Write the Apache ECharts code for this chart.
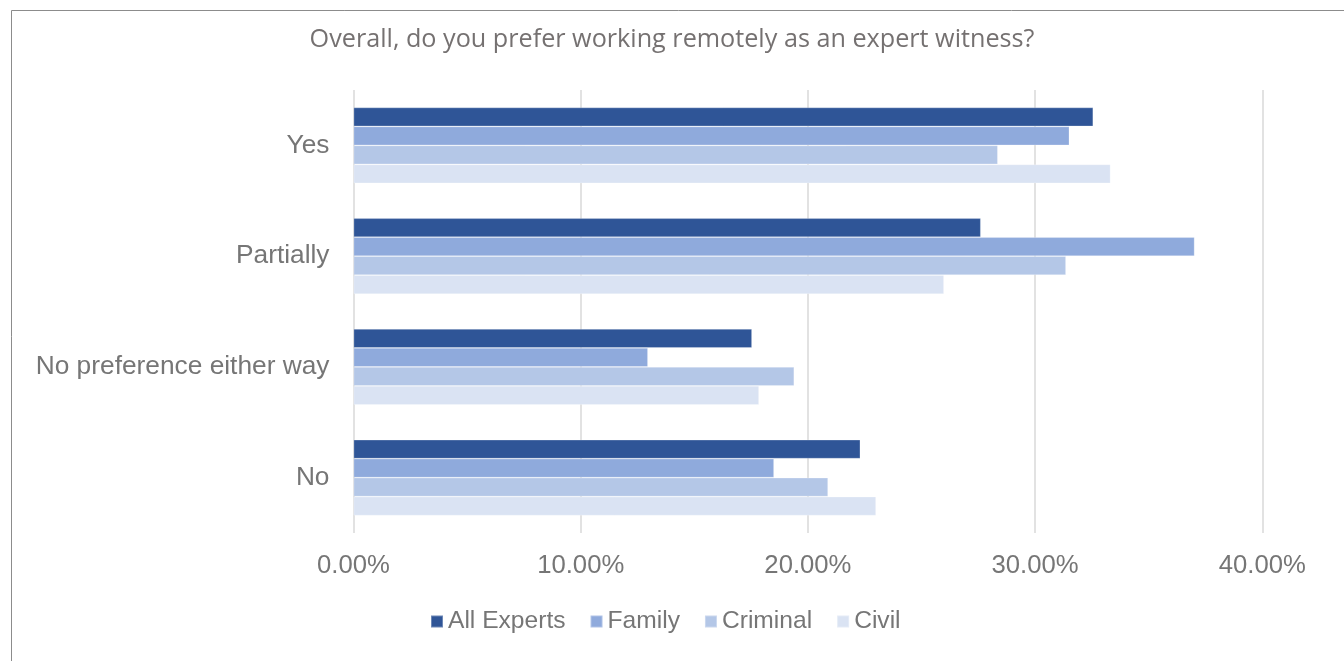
<!DOCTYPE html>
<html>
<head>
<meta charset="utf-8">
<title>Remote working preference</title>
<script src="https://cdn.jsdelivr.net/npm/echarts@6/dist/echarts.min.js"></script>
<style>
  html, body { margin: 0; padding: 0; background: #ffffff; }
  #chart { width: 1344px; height: 661px; }
</style>
</head>
<body>
<div id="chart"></div>
<script>
// Survey answers, top to bottom
const categories = ['Yes', 'Partially', 'No preference either way', 'No'];

// Share of respondents (%) per group
const allExperts = [32.56, 27.61, 17.54, 22.31];
const family     = [31.51, 37.02, 12.96, 18.51];
const criminal   = [28.36, 31.36, 19.40, 20.89];
const civil      = [33.32, 25.99, 17.85, 23.00];

const seriesNames = ['All Experts', 'Family', 'Criminal', 'Civil'];
const seriesColors = ['#2F5597', '#8FAADC', '#B4C7E7', '#DAE3F3'];
const seriesData = [allExperts, family, criminal, civil];

const chart = echarts.init(document.getElementById('chart'), null, { renderer: 'canvas' });

const textGray = '#767676';

chart.setOption({
  backgroundColor: '#ffffff',
  animation: false,
  title: {
    text: 'Overall, do you prefer working remotely as an expert witness?',
    left: 'center',
    top: 22,
    textStyle: {
      fontFamily: 'Open Sans',
      fontWeight: 'normal',
      fontSize: 25.2,
      color: '#757171'
    }
  },
  legend: {
    data: seriesNames,
    bottom: 22,
    left: 425,
    icon: 'rect',
    itemWidth: 12,
    itemHeight: 12,
    itemGap: 24,
    textStyle: {
      fontFamily: 'Liberation Sans',
      fontSize: 24.6,
      color: textGray
    }
  },
  grid: {
    left: 353.5,
    right: 81.7,
    top: 90,
    height: 443,
    containLabel: false
  },
  xAxis: {
    type: 'value',
    min: 0,
    max: 40,
    interval: 10,
    axisLine: { show: false },
    axisTick: { show: false },
    splitLine: { show: true, lineStyle: { color: '#d9d9d9', width: 1.5 } },
    axisLabel: {
      margin: 20,
      fontFamily: 'Liberation Sans',
      fontSize: 25.7,
      color: textGray,
      formatter: v => v.toFixed(2) + '%'
    }
  },
  yAxis: {
    type: 'category',
    data: categories,
    inverse: true,
    axisLine: { show: false },
    axisTick: { show: false },
    axisLabel: {
      margin: 24,
      fontFamily: 'Liberation Sans',
      fontSize: 26.3,
      color: textGray
    }
  },
  series: seriesNames.map((name, i) => ({
    name: name,
    type: 'bar',
    data: seriesData[i],
    barGap: '0%',
    barCategoryGap: '31.5%',
    itemStyle: {
      color: seriesColors[i],
      borderColor: 'rgba(255,255,255,0.3)',
      borderWidth: 0.8
    }
  })),
  graphic: [{
    type: 'rect',
    silent: true,
    z: -1,
    shape: { x: 11.5, y: 10.5, width: 1400, height: 700 },
    style: { fill: 'none', stroke: '#8c8c8c', lineWidth: 1 }
  }]
});
</script>
</body>
</html>
